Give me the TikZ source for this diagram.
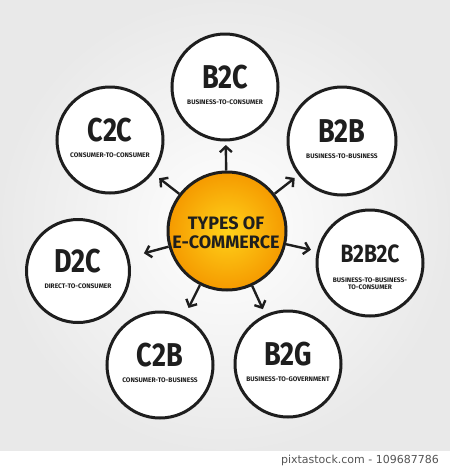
\documentclass[tikz,border=0pt]{standalone}
\usepackage{fontspec}
\setmainfont{Fira Sans}
\newfontfamily\wmfont{DejaVu Sans}
\usetikzlibrary{arrows.meta,calc}
\definecolor{ink}{HTML}{1E1E1E}
\definecolor{hubin}{HTML}{FFD21A}
\definecolor{hubout}{HTML}{F59A00}
\definecolor{wmgray}{HTML}{555555}
\newcommand{\ttlA}[1]{\scalebox{0.82}[1]{\fontsize{33}{33}\selectfont\bfseries #1}}
\newcommand{\ttlB}[1]{\scalebox{0.84}[1]{\fontsize{25}{25}\selectfont\bfseries #1}}
\begin{document}
\begin{tikzpicture}[x=1pt,y=-1pt,
  sat/.style={circle,draw=ink,line width=3pt,fill=white,inner sep=0pt},
  hub/.style={circle,draw=ink,line width=3pt,minimum size=118pt,inner sep=0pt,inner color=hubin,outer color=hubout},
  ttl/.style={text=ink,inner sep=0pt},
  sub/.style={text=ink,inner sep=0pt,font=\fontsize{6.6}{6.6}\selectfont\bfseries,align=center},
  hubtxt/.style={text=ink,inner sep=0pt,font=\fontsize{18}{18}\selectfont\bfseries},
  arr/.style={draw=ink,line width=2.4pt,-{Straight Barb[length=5.5pt,width=12pt]}}]
\useasboundingbox (0,0) rectangle (450,469);
% background
\shade[inner color=white,outer color=gray!17] (0,0) rectangle (450,451);
\fill[white] (0,451) rectangle (450,469);
\node[anchor=base east,text=wmgray,font=\wmfont\fontsize{11}{11}\selectfont,inner sep=0pt] (wm) at (439,463) {pixtastock.com - 109687786};
% hub
\node[hub] (hub) at (227,231) {};
\node[hubtxt] (hubt1) at (226,223) {TYPES OF};
\node[hubtxt] (hubt2) at (226,242) {E-COMMERCE};
% satellites
\node[sat,minimum size=106pt] (b2c) at (225,87) {};
\node[sat,minimum size=108pt] (b2b) at (342,141) {};
\node[sat,minimum size=106pt] (b2b2c) at (370,263) {};
\node[sat,minimum size=106pt] (b2g) at (288,364) {};
\node[sat,minimum size=106pt] (c2b) at (160,365) {};
\node[sat,minimum size=103pt] (d2c) at (78,271) {};
\node[sat,minimum size=106pt] (c2c) at (110,140) {};
% titles
\node[ttl] (b2ct) at ($(b2c)+(0,-10)$) {\ttlA{B2C}};
\node[sub] (b2cs) at ($(b2c)+(0,15)$) {BUSINESS-TO-CONSUMER};
\node[ttl] (b2bt) at ($(b2b)+(0,-10)$) {\ttlA{B2B}};
\node[sub] (b2bs) at ($(b2b)+(0,15)$) {BUSINESS-TO-BUSINESS};
\node[ttl] (b2b2ct) at ($(b2b2c)+(0,-9)$) {\ttlB{B2B2C}};
\node[sub] (b2b2cs) at ($(b2b2c)+(0,21)$) {BUSINESS-TO-BUSINESS-\\TO-CONSUMER};
\node[ttl] (b2gt) at ($(b2g)+(0,-10)$) {\ttlA{B2G}};
\node[sub] (b2gs) at ($(b2g)+(0,15)$) {BUSINESS-TO-GOVERNMENT};
\node[ttl] (c2bt) at ($(c2b)+(0,-10)$) {\ttlA{C2B}};
\node[sub] (c2bs) at ($(c2b)+(0,15)$) {CONSUMER-TO-BUSINESS};
\node[ttl] (d2ct) at ($(d2c)+(0,-10)$) {\ttlA{D2C}};
\node[sub] (d2cs) at ($(d2c)+(0,15)$) {DIRECT-TO-CONSUMER};
\node[ttl] (c2ct) at ($(c2c)+(0,-10)$) {\ttlA{C2C}};
\node[sub] (c2cs) at ($(c2c)+(0,15)$) {CONSUMER-TO-CONSUMER};
% arrows
\foreach \s in {b2c,b2b,b2b2c,b2g,c2b,d2c,c2c}
  \draw[arr] (hub) -- ($(hub)!86pt!(\s)$);
\end{tikzpicture}
\end{document}
